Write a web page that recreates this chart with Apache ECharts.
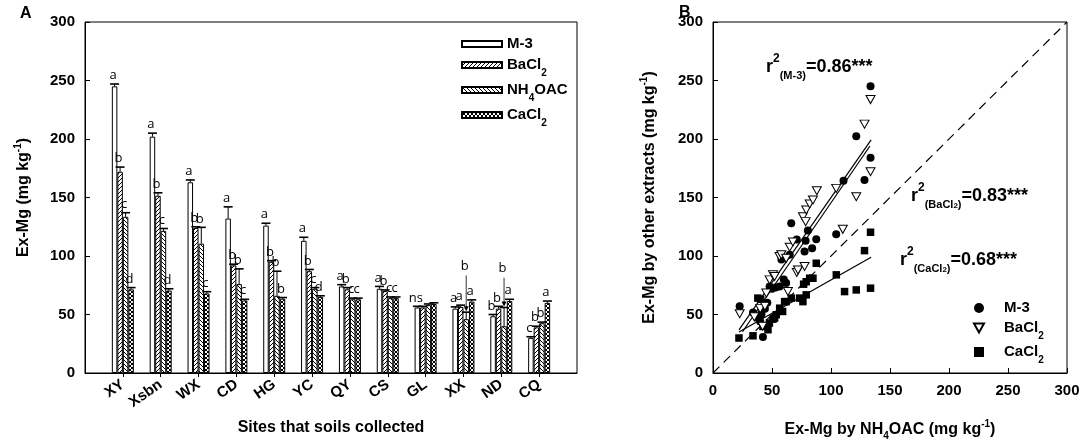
<!DOCTYPE html>
<html>
<head>
<meta charset="utf-8">
<script src="https://cdn.jsdelivr.net/npm/echarts@6/dist/echarts.min.js"></script>
<style>
  html, body { margin: 0; padding: 0; background: #fff; }
  #chart { width: 1084px; height: 448px; }
</style>
</head>
<body>
<div id="chart"></div>
<script>
// ---- panel A data ----
var sites = ['XY', 'Xsbn', 'WX', 'CD', 'HG', 'YC', 'QY', 'CS', 'GL', 'XX', 'ND', 'CQ'];
var extractNames = ['M-3', 'BaCl2', 'NH4OAC', 'CaCl2'];

var m3 = [245, 202, 163, 132, 126, 113, 74, 72, 56, 55, 48.5, 30];
var m3Err = [247, 205, 165, 142, 128, 116, 75.5, 74, 57, 56.5, 50, 31];
var bacl2 = [172, 151.5, 124, 92, 95, 87, 71.5, 70, 56, 56.5, 55, 39];
var bacl2Err = [176, 154, 125, 93, 96, 88.5, 73, 71, 57, 58, 57, 40];
var nh4 = [133.5, 121.5, 110.5, 76, 66, 72, 63, 64, 58, 46, 40, 42.5];
var nh4Err = [137, 123.5, 124.5, 89, 87, 73, 64, 65, 59, 52, 56, 43.5];
var cacl2 = [71.5, 70.5, 68, 62, 63.5, 65, 63, 64, 59, 61, 61.5, 60];
var cacl2Err = [73, 72, 69.5, 63, 64.5, 66, 64, 65, 60, 62.5, 63, 61.5];

var m3Letters = ['a', 'a', 'a', 'a', 'a', 'a', 'a', 'a', 'ns', 'a', 'b', 'c'];
var bacl2Letters = ['b', 'b', 'b', 'b', 'b', 'b', 'b', 'b', '', 'a', 'b', 'b'];
var nh4Letters = ['c', 'c', 'b', 'b', 'b', 'c', 'c', 'c', '', 'b', 'b', 'b'];
var cacl2Letters = ['d', 'd', 'c', 'c', 'b', 'd', 'c', 'c', '', 'a', 'a', 'a'];
// labels lifted above the bars with a pointer
var nh4LabelAt = [null, null, null, null, null, null, null, null, null, 86, 84, null];

var yTicks = [0, 300, 50];

// ---- panel B data ----
var m3X = [22.6, 33.9, 41, 42.3, 40, 44, 46, 48, 50, 53, 56.5, 58, 60, 62, 65, 66.3, 71, 77.6, 78.5, 80.4, 84, 87.5, 104.4, 110.6, 121.4, 128.4, 133.5, 133.5, 44, 38];
var m3Y = [57, 51.7, 50, 30.7, 44, 40, 60, 74, 72, 73, 74, 97, 80, 77, 101, 128, 114, 103.8, 113, 121.7, 106.6, 114.3, 118.6, 164.3, 202.4, 165, 184, 245, 55, 47];
var baX = [22.6, 35, 40, 44, 45.2, 48, 50.8, 52.2, 56.4, 57.9, 62, 63.5, 65, 67.7, 71, 72, 76.2, 77.6, 78.5, 79, 81.9, 84.7, 88, 104.4, 110, 121.4, 128.4, 133.5, 133.5, 42];
var baY = [50.6, 48, 55, 57, 68.3, 79.6, 83.9, 82.5, 99.5, 101, 98, 69.6, 107.5, 112, 85.9, 88, 133.6, 91, 129.4, 139.3, 144.4, 147.9, 155.8, 157.8, 122.8, 150.7, 212.7, 172, 233.7, 40];
var caX = [22, 33.9, 38, 40.4, 41, 42.3, 46.6, 47.8, 50.8, 52.2, 53.6, 56.5, 59, 60.7, 62, 66.4, 73.4, 76.2, 79, 79, 81.9, 84.7, 87.5, 104.5, 111.5, 121.4, 128.4, 133.5, 133.5, 76.8];
var caY = [29.9, 31.8, 64, 63, 52.6, 39.8, 37, 42.7, 46, 46.9, 49.8, 55.4, 52.6, 61, 61, 64, 64, 61, 66.8, 78, 81, 81, 93.8, 83.9, 69.6, 71, 104.6, 120.3, 72.5, 75.9];

var fitSlope = [1.45, 1.47, 0.57];
var fitIntercept = [5, -1.5, 22.5];
var fitFrom = [22, 25, 22];
var fitTo = [134, 133, 134];
var oneToOne = [0, 300];

var BAR_W = 5.5;
var FONT = 'Arial, "Liberation Sans", sans-serif';

function hatch(kind) {
  var c = document.createElement('canvas');
  c.width = 4; c.height = 4;
  var g = c.getContext('2d');
  g.fillStyle = '#fff';
  g.fillRect(0, 0, 4, 4);
  g.strokeStyle = '#000';
  g.lineWidth = 1;
  g.beginPath();
  if (kind === 'fwd' || kind === 'cross') {
    g.moveTo(0, 4); g.lineTo(4, 0);
    g.moveTo(-1, 1); g.lineTo(1, -1);
    g.moveTo(3, 5); g.lineTo(5, 3);
  }
  if (kind === 'back' || kind === 'cross') {
    g.moveTo(0, 0); g.lineTo(4, 4);
    g.moveTo(-1, 3); g.lineTo(1, 5);
    g.moveTo(3, -1); g.lineTo(5, 1);
  }
  g.stroke();
  return { image: c, repeat: 'repeat' };
}

var barValues = [m3, bacl2, nh4, cacl2];
var errValues = [m3Err, bacl2Err, nh4Err, cacl2Err];
var letters = [m3Letters, bacl2Letters, nh4Letters, cacl2Letters];
var fills = ['#fff', hatch('fwd'), hatch('back'), hatch('cross')];

var legendText = {
  'M-3': 'M-3',
  'BaCl2': 'BaCl{s|2}',
  'NH4OAC': 'NH{s|4}OAC',
  'CaCl2': 'CaCl{s|2}'
};
var legendRich = {
  s: { fontSize: 10, fontWeight: 'bold', fontFamily: FONT, verticalAlign: 'bottom', lineHeight: 10, padding: [0, 0, -4, 0] }
};

function renderErr(params, api) {
  var k = api.value(3), i = api.value(4);
  var cap = api.coord([api.value(0), api.value(1)]);
  var top = api.coord([api.value(0), api.value(2)]);
  var x = cap[0] + (k - 1.5) * BAR_W;
  var kids = [
    { type: 'line', shape: { x1: x, y1: top[1], x2: x, y2: cap[1] }, style: { stroke: '#000', lineWidth: 1 } },
    { type: 'line', shape: { x1: x - 4.5, y1: cap[1], x2: x + 4.5, y2: cap[1] }, style: { stroke: '#000', lineWidth: 1.6 } }
  ];
  var txt = letters[k][i];
  if (txt) {
    var ty = cap[1] - 2;
    var raised = k === 2 ? nh4LabelAt[i] : null;
    if (raised != null) {
      var r = api.coord([api.value(0), raised]);
      ty = r[1];
      kids.push({ type: 'line', shape: { x1: x, y1: r[1] + 3, x2: x, y2: cap[1] - 5 }, style: { stroke: '#000', lineWidth: 0.8 } });
      kids.push({ type: 'polygon', shape: { points: [[x - 2.5, cap[1] - 6], [x + 2.5, cap[1] - 6], [x, cap[1] - 1]] }, style: { fill: '#000' } });
    }
    kids.push({
      type: 'text', x: x - 1.5, y: ty,
      style: { text: txt, align: 'center', verticalAlign: 'bottom', font: '13px "Open Sans", sans-serif', fill: '#000' }
    });
  }
  return { type: 'group', children: kids };
}

var series = [];
extractNames.forEach(function (name, k) {
  series.push({
    name: name,
    type: 'bar',
    xAxisIndex: 0, yAxisIndex: 0,
    barWidth: BAR_W,
    barGap: '0%',
    itemStyle: { color: fills[k], borderColor: '#000', borderWidth: 1 },
    data: barValues[k].map(function (v, i) { return [i + 1, v]; }),
    z: 2
  });
});

var errData = [];
extractNames.forEach(function (name, k) {
  barValues[k].forEach(function (v, i) {
    errData.push([i + 1, errValues[k][i], v, k, i]);
  });
});
series.push({
  type: 'custom',
  xAxisIndex: 0, yAxisIndex: 0,
  renderItem: renderErr,
  encode: { x: 0, y: 1 },
  data: errData,
  z: 5,
  silent: true
});

function pairs(xs, ys) {
  return xs.map(function (x, i) { return [x, ys[i]]; });
}
series.push({
  name: 'M-3 (B)', type: 'scatter', xAxisIndex: 1, yAxisIndex: 1,
  symbol: 'circle', symbolSize: 8,
  itemStyle: { color: '#000', opacity: 1 },
  data: pairs(m3X, m3Y), z: 4
});
series.push({
  name: 'BaCl2 (B)', type: 'scatter', xAxisIndex: 1, yAxisIndex: 1,
  symbol: 'path://M0,0 L10,0 L5,9 Z', symbolSize: [9, 8],
  itemStyle: { color: '#fff', borderColor: '#000', borderWidth: 1, opacity: 1 },
  data: pairs(baX, baY), z: 5
});
series.push({
  name: 'CaCl2 (B)', type: 'scatter', xAxisIndex: 1, yAxisIndex: 1,
  symbol: 'rect', symbolSize: 7.5,
  itemStyle: { color: '#000', opacity: 1 },
  data: pairs(caX, caY), z: 4
});
fitSlope.forEach(function (s, j) {
  series.push({
    type: 'line', xAxisIndex: 1, yAxisIndex: 1,
    symbol: 'none', silent: true,
    lineStyle: { color: '#000', width: 1.2 },
    data: [fitFrom[j], fitTo[j]].map(function (x) { return [x, s * x + fitIntercept[j]]; }),
    z: 3
  });
});
series.push({
  type: 'line', xAxisIndex: 1, yAxisIndex: 1,
  symbol: 'none', silent: true,
  lineStyle: { color: '#000', width: 1.2, type: [9, 6] },
  data: oneToOne.map(function (v) { return [v, v]; }),
  z: 3
});

var axisLabelStyle = { color: '#000', fontWeight: 'bold', fontSize: 15, fontFamily: FONT };
var nameRich = {
  t: { fontSize: 16, fontWeight: 'bold', fontFamily: FONT, color: '#000', lineHeight: 22 },
  sup: { fontSize: 10, fontWeight: 'bold', fontFamily: FONT, color: '#000', verticalAlign: 'top', lineHeight: 10 },
  sub: { fontSize: 10, fontWeight: 'bold', fontFamily: FONT, color: '#000', verticalAlign: 'bottom', lineHeight: 8 }
};
var annRich = {
  m: { fontSize: 18, fontWeight: 'bold', fontFamily: FONT, fill: '#000', lineHeight: 28 },
  sup: { fontSize: 12, fontWeight: 'bold', fontFamily: FONT, fill: '#000', verticalAlign: 'top', lineHeight: 10 },
  sub: { fontSize: 11, fontWeight: 'bold', fontFamily: FONT, fill: '#000', verticalAlign: 'bottom', lineHeight: 10 },
  sub2: { fontSize: 8, fontWeight: 'bold', fontFamily: FONT, fill: '#000', verticalAlign: 'bottom', lineHeight: 5 }
};

var option = {
  animation: false,
  backgroundColor: '#fff',
  grid: [
    { left: 85, top: 22, width: 492, height: 351, show: true, borderColor: '#000', borderWidth: 1 },
    { left: 713, top: 22, width: 354, height: 351, show: true, borderColor: '#000', borderWidth: 1 }
  ],
  xAxis: [
    {
      gridIndex: 0, type: 'category', boundaryGap: false,
      data: [''].concat(sites, ['']),
      axisLine: { lineStyle: { color: '#000' } },
      axisTick: {
        length: 4, lineStyle: { color: '#000' },
        interval: function (idx, val) { return val !== ''; }
      },
      axisLabel: Object.assign({ rotate: 35, interval: 0, margin: 10 }, axisLabelStyle),
      splitLine: { show: false },
      name: 'Sites that soils collected', nameLocation: 'middle', nameGap: 47,
      nameTextStyle: { color: '#000', fontWeight: 'bold', fontSize: 16, fontFamily: FONT }
    },
    {
      gridIndex: 1, type: 'value', min: 0, max: 300, interval: 50,
      axisLine: { lineStyle: { color: '#000' } },
      axisTick: { inside: true, length: 5, lineStyle: { color: '#000' } },
      axisLabel: Object.assign({ margin: 10 }, axisLabelStyle),
      splitLine: { show: false },
      name: '{t|Ex-Mg by NH}{sub|4}{t|OAC (mg kg}{sup|-1}{t|)}', nameLocation: 'middle', nameGap: 46,
      nameTextStyle: { rich: nameRich }
    }
  ],
  yAxis: [
    {
      gridIndex: 0, type: 'value', min: yTicks[0], max: yTicks[1], interval: yTicks[2],
      axisLine: { show: true, lineStyle: { color: '#000' } },
      axisTick: { show: true, inside: true, length: 5, lineStyle: { color: '#000' } },
      axisLabel: Object.assign({ margin: 10 }, axisLabelStyle),
      splitLine: { show: false },
      name: '{t|Ex-Mg (mg kg}{sup|-1}{t|)}', nameLocation: 'middle', nameGap: 50,
      nameTextStyle: { rich: nameRich }
    },
    {
      gridIndex: 1, type: 'value', min: 0, max: 300, interval: 50,
      axisLine: { show: true, lineStyle: { color: '#000' } },
      axisTick: { show: true, inside: true, length: 5, lineStyle: { color: '#000' } },
      axisLabel: Object.assign({ margin: 10 }, axisLabelStyle),
      splitLine: { show: false },
      name: '{t|Ex-Mg by other extracts (mg kg}{sup|-1}{t|)}', nameLocation: 'middle', nameGap: 52,
      nameTextStyle: { rich: nameRich }
    }
  ],
  legend: [
    {
      data: extractNames,
      orient: 'vertical', left: 456, top: 30,
      itemWidth: 40, itemHeight: 6, itemGap: 3,
      selectedMode: false,
      icon: 'rect',
      formatter: function (n) { return legendText[n]; },
      textStyle: { color: '#000', fontSize: 15, fontWeight: 'bold', fontFamily: FONT, lineHeight: 18, rich: legendRich }
    },
    {
      data: ['M-3 (B)', 'BaCl2 (B)', 'CaCl2 (B)'],
      orient: 'vertical', left: 968, top: 294,
      itemWidth: 10, itemHeight: 10, itemGap: 2,
      selectedMode: false,
      formatter: function (n) { return legendText[n.replace(' (B)', '')]; },
      textStyle: { color: '#000', fontSize: 15, fontWeight: 'bold', fontFamily: FONT, lineHeight: 18, padding: [0, 0, 0, 15], rich: legendRich }
    }
  ],
  graphic: [
    { type: 'text', left: 20, top: 6, style: { text: 'A', font: 'bold 16px ' + FONT, fill: '#000' } },
    { type: 'text', left: 679, top: 5, style: { text: 'B', font: 'bold 16px ' + FONT, fill: '#000' } },
    { type: 'text', left: 766, top: 53, style: { text: '{m|r}{sup|2}{sub|(M-3)}{m|=0.86***}', rich: annRich } },
    { type: 'text', left: 911, top: 182, style: { text: '{m|r}{sup|2}{sub|(BaCl}{sub2|2}{sub|)}{m|=0.83***}', rich: annRich } },
    { type: 'text', left: 900, top: 246, style: { text: '{m|r}{sup|2}{sub|(CaCl}{sub2|2}{sub|)}{m|=0.68***}', rich: annRich } }
  ],
  series: series
};

var myChart = echarts.init(document.getElementById('chart'));
myChart.setOption(option);
</script>
</body>
</html>
